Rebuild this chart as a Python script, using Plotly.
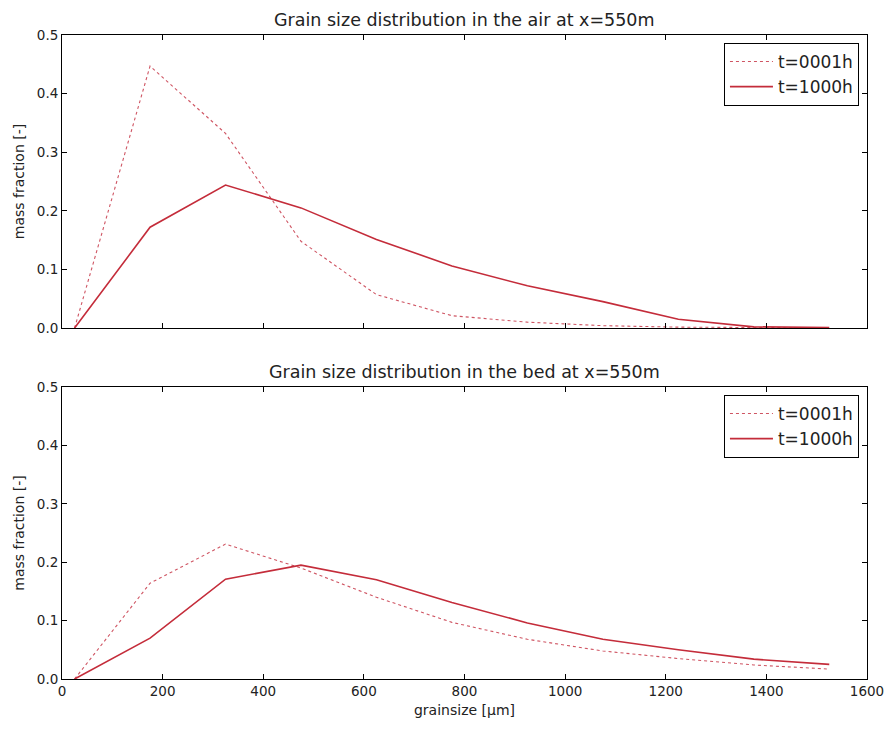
import plotly.graph_objects as go

grainsize = [25, 175, 325, 475, 625, 775, 925, 1075, 1225, 1375, 1525]
air_t0001 = [0.0, 0.447, 0.332, 0.148, 0.057, 0.021, 0.010, 0.004, 0.0015, 0.0005, 0.0002]
air_t1000 = [0.0, 0.172, 0.244, 0.205, 0.151, 0.106, 0.072, 0.045, 0.015, 0.002, 0.001]
bed_t0001 = [0.0, 0.164, 0.231, 0.190, 0.140, 0.097, 0.068, 0.048, 0.035, 0.024, 0.017]
bed_t1000 = [0.0, 0.070, 0.171, 0.195, 0.170, 0.131, 0.096, 0.068, 0.050, 0.034, 0.025]

series_names = ["t=0001h", "t=1000h"]
titles = ["Grain size distribution in the air at x=550m",
          "Grain size distribution in the bed at x=550m"]
xticks = [0, 200, 400, 600, 800, 1000, 1200, 1400, 1600]
yticks = [0.0, 0.1, 0.2, 0.3, 0.4, 0.5]
ytick_text = ["0.0", "0.1", "0.2", "0.3", "0.4", "0.5"]

RED = "#c42c3a"
RED_DOT = "#cf5563"
FONT = "DejaVu Sans"
TXT = "#222222"

fig = go.Figure()
fig.add_trace(go.Scatter(x=grainsize, y=air_t0001, mode="lines", name=series_names[0],
                         line=dict(color=RED_DOT, width=1.1, dash="dot"),
                         xaxis="x", yaxis="y", legend="legend"))
fig.add_trace(go.Scatter(x=grainsize, y=air_t1000, mode="lines", name=series_names[1],
                         line=dict(color=RED, width=1.6),
                         xaxis="x", yaxis="y", legend="legend"))
fig.add_trace(go.Scatter(x=grainsize, y=bed_t0001, mode="lines", name=series_names[0],
                         line=dict(color=RED_DOT, width=1.1, dash="dot"),
                         xaxis="x2", yaxis="y2", legend="legend2"))
fig.add_trace(go.Scatter(x=grainsize, y=bed_t1000, mode="lines", name=series_names[1],
                         line=dict(color=RED, width=1.6),
                         xaxis="x2", yaxis="y2", legend="legend2"))

axis_common = dict(showline=True, linecolor="black", linewidth=1, mirror="ticks",
                   ticks="inside", ticklen=5, tickcolor="black", tickwidth=1,
                   showgrid=False, zeroline=False, automargin=False,
                   tickfont=dict(family=FONT, size=13.5, color=TXT))

top_dom = [0.545, 1.0]
bot_dom = [0.0, 0.4534]

legend_common = dict(bgcolor="white", bordercolor="black", borderwidth=1,
                     font=dict(family=FONT, size=17, color=TXT),
                     xanchor="right", yanchor="top", itemwidth=43,
                     tracegroupgap=0)

fig.update_layout(
    width=886, height=729,
    margin=dict(l=62, r=19, t=35, b=50, autoexpand=False),
    paper_bgcolor="white", plot_bgcolor="white",
    xaxis=dict(domain=[0, 1], anchor="y", range=[0, 1600], tickvals=xticks,
               showticklabels=False, **axis_common),
    yaxis=dict(domain=top_dom, anchor="x", range=[0, 0.5], tickvals=yticks,
               ticktext=ytick_text,
               title=dict(text="mass fraction [-]", font=dict(family=FONT, size=14, color=TXT),
                          standoff=8),
               **axis_common),
    xaxis2=dict(domain=[0, 1], anchor="y2", range=[0, 1600], tickvals=xticks,
                title=dict(text="grainsize [μm]", font=dict(family=FONT, size=14, color=TXT),
                           standoff=6),
                **axis_common),
    yaxis2=dict(domain=bot_dom, anchor="x2", range=[0, 0.5], tickvals=yticks,
                ticktext=ytick_text,
                title=dict(text="mass fraction [-]", font=dict(family=FONT, size=14, color=TXT),
                           standoff=8),
                **axis_common),
    legend=dict(x=0.990, y=0.9876, **legend_common),
    legend2=dict(x=0.990, y=0.441, **legend_common),
    annotations=[
        dict(text=titles[0], xref="paper", yref="paper", x=0.5, y=1.0,
             xanchor="center", yanchor="bottom", yshift=3, showarrow=False,
             font=dict(family=FONT, size=17.5, color=TXT)),
        dict(text=titles[1], xref="paper", yref="paper", x=0.5, y=bot_dom[1],
             xanchor="center", yanchor="bottom", yshift=3, showarrow=False,
             font=dict(family=FONT, size=17.5, color=TXT)),
    ],
)

fig.write_html("out.html", config={"displayModeBar": False},
               post_script="document.body.style.margin='0';")
